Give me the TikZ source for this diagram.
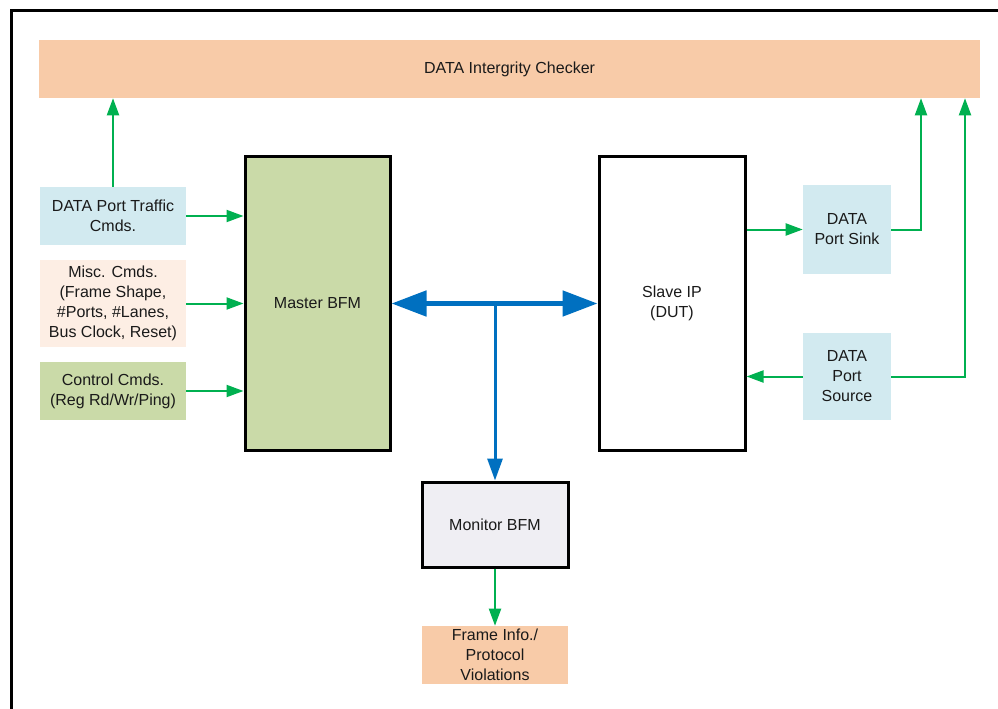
\documentclass[tikz,border=0pt]{standalone}
\usepackage{fontspec}
\setmainfont{Liberation Sans}
\usetikzlibrary{arrows.meta}
\newdimen\px \px=0.75pt
\definecolor{peach}{HTML}{F8CBA8}
\definecolor{paleblue}{HTML}{D2EAF0}
\definecolor{palepeach}{HTML}{FDEEE4}
\definecolor{olive}{HTML}{CADAA8}
\definecolor{lavender}{HTML}{EFEEF3}
\definecolor{flowgreen}{HTML}{00B050}
\definecolor{busblue}{HTML}{0070C0}
\definecolor{ink}{HTML}{1A1A1A}
\tikzset{
  x=0.75pt, y=-0.75pt,
  box/.style={inner sep=0pt, align=center, text=ink,
    font=\fontsize{12pt}{15pt}\selectfont},
  plainbox/.style={box, draw=none},
  heavybox/.style={box, draw=black, line width=2.25pt},
  flow/.style={draw=flowgreen, line width=1.5pt,
    -{Triangle[length=12.75pt, width=9pt]}},
  bus/.style={draw=busblue, line width=3.75pt,
    {Triangle[length=26.25pt, width=18.75pt]}-{Triangle[length=26.25pt, width=18.75pt]}},
  tap/.style={draw=busblue, line width=2.25pt,
    -{Triangle[length=16.5pt, width=11.25pt]}},
}
\begin{document}
\begin{tikzpicture}
\useasboundingbox (0,0) rectangle (998,709);
% outer frame
\draw[line width=2.25pt] (11,709) -- (11,11) -- (998,11);

% blocks
\node[plainbox, fill=peach, minimum width=941\px, minimum height=58\px]
  (checker) at (509.5,69) {DATA Intergrity Checker};
\node[plainbox, fill=paleblue, minimum width=146\px, minimum height=58\px]
  (traffic) at (113,216) {DATA Port Traffic\\Cmds.};
\node[plainbox, fill=palepeach, minimum width=146\px, minimum height=87\px]
  (misc) at (113,303.5) {Misc. Cmds.\\(Frame Shape,\\\#Ports, \#Lanes,\\Bus Clock, Reset)};
\node[plainbox, fill=olive, minimum width=146\px, minimum height=58\px]
  (control) at (113,391) {Control Cmds.\\(Reg Rd/Wr/Ping)};
\node[heavybox, fill=olive, minimum width=145\px, minimum height=293\px]
  (master) at (317.5,303.5) {Master BFM};
\node[heavybox, fill=white, minimum width=146\px, minimum height=293\px]
  (slave) at (672,303.5) {Slave IP\\(DUT)};
\node[plainbox, fill=paleblue, minimum width=88\px, minimum height=89\px]
  (sink) at (847,229.5) {DATA\\Port Sink};
\node[plainbox, fill=paleblue, minimum width=88\px, minimum height=87\px]
  (source) at (847,376.5) {DATA\\Port\\Source};
\node[heavybox, fill=lavender, minimum width=146\px, minimum height=85\px]
  (monitor) at (495,524.5) {Monitor BFM};
\node[plainbox, fill=peach, minimum width=146\px, minimum height=58\px]
  (frameinfo) at (495,655) {Frame Info./\\Protocol\\Violations};

% routing points
\coordinate (sinkturn) at (921,229.5);
\coordinate (sourceturn) at (965,376.5);
\coordinate (busjoin) at (monitor.north |- master.east);

% command inputs
\draw[flow] (traffic.north) -- (traffic.north |- checker.south);
\draw[flow] (traffic.east) -- (traffic.east -| master.west);
\draw[flow] (misc.east) -- (misc.east -| master.west);
\draw[flow] (control.east) -- (control.east -| master.west);

% data port paths
\draw[flow] (slave.east |- sink.west) -- (sink.west);
\draw[flow] (sink.east) -- (sinkturn) -- (sinkturn |- checker.south);
\draw[flow] (source.west) -- (source.west -| slave.east);
\draw[flow] (source.east) -- (sourceturn) -- (sourceturn |- checker.south);

% monitor output
\draw[flow] (monitor.south) -- (frameinfo.north);

% bus between master and slave, tapped by the monitor
\draw[tap] (busjoin) -- (monitor.north);
\draw[bus] (master.east) -- (master.east -| slave.west);
\end{tikzpicture}
\end{document}
